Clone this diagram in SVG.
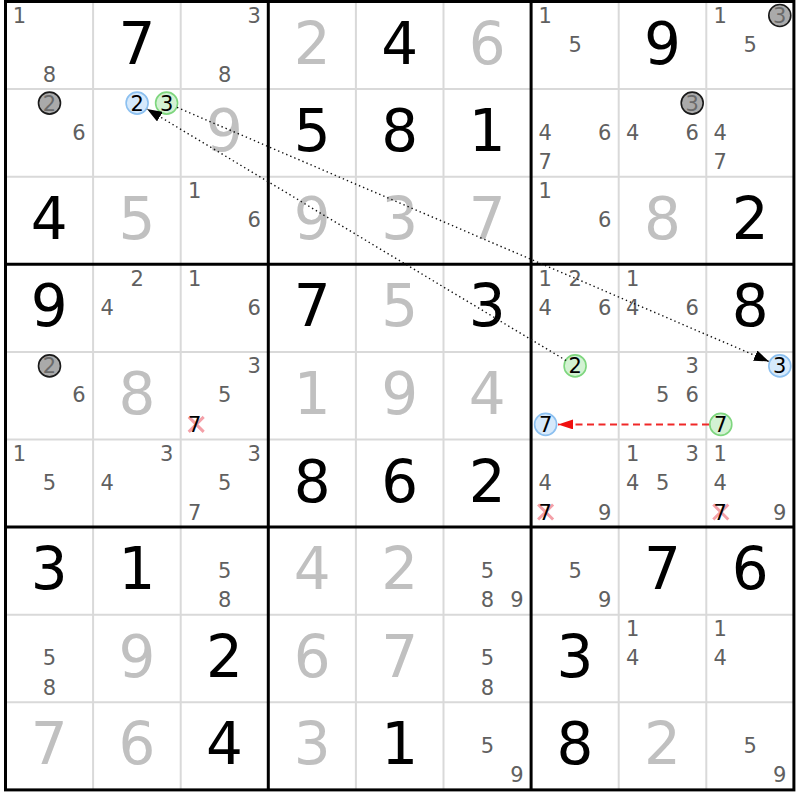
<svg xmlns="http://www.w3.org/2000/svg" width="800" height="800" viewBox="0 0 800 800">
<style>
text{font-family:"DejaVu Sans","Liberation Sans",sans-serif;text-anchor:middle}
.b{font-size:58px;fill:#000}
.s{font-size:58px;fill:#c0c0c0}
.c{font-size:21px;fill:#606060}
.k{font-size:21px;fill:#000}
.gd{font-size:21px;fill:#6a6a6a}
.thin{stroke:#d9d9d9;stroke-width:2}
.thick{stroke:#000;stroke-width:3}
.hb{fill:#d6e9fb;stroke:#8cc0f0;stroke-width:1.6}
.hg{fill:#d3f2d3;stroke:#7ed67e;stroke-width:1.6}
.hx{fill:#aaaaaa;stroke:#1a1a1a;stroke-width:1.6}
.x{stroke:#f4a0a8;stroke-width:3}
.dot{stroke:#111;stroke-width:1.4;stroke-dasharray:1.4 3;fill:none}
.dash{stroke:#f02828;stroke-width:2;stroke-dasharray:7 4.5;fill:none}
</style>
<defs>
<marker id="ab" viewBox="0 0 15 11" refX="15" refY="5.5" markerWidth="15" markerHeight="11" markerUnits="userSpaceOnUse" orient="auto"><path d="M0,0 L15,5.5 L0,11 z" fill="#000"/></marker>
<marker id="ar" viewBox="0 0 15 10" refX="15" refY="5" markerWidth="15" markerHeight="10" markerUnits="userSpaceOnUse" orient="auto"><path d="M0,0 L15,5 L0,10 z" fill="#f01010"/></marker>
</defs>
<rect x="0" y="0" width="800" height="800" fill="#fff"/>
<g id="grid">
<line class="thin" x1="93.1" y1="1.5" x2="93.1" y2="789.9"/>
<line class="thin" x1="180.7" y1="1.5" x2="180.7" y2="789.9"/>
<line class="thin" x1="355.9" y1="1.5" x2="355.9" y2="789.9"/>
<line class="thin" x1="443.5" y1="1.5" x2="443.5" y2="789.9"/>
<line class="thin" x1="618.7" y1="1.5" x2="618.7" y2="789.9"/>
<line class="thin" x1="706.3" y1="1.5" x2="706.3" y2="789.9"/>
<line class="thin" x1="5.5" y1="89.1" x2="793.9" y2="89.1"/>
<line class="thin" x1="5.5" y1="176.7" x2="793.9" y2="176.7"/>
<line class="thin" x1="5.5" y1="351.9" x2="793.9" y2="351.9"/>
<line class="thin" x1="5.5" y1="439.5" x2="793.9" y2="439.5"/>
<line class="thin" x1="5.5" y1="614.7" x2="793.9" y2="614.7"/>
<line class="thin" x1="5.5" y1="702.3" x2="793.9" y2="702.3"/>
<line class="thick" x1="268.3" y1="1.5" x2="268.3" y2="789.9"/>
<line class="thick" x1="531.1" y1="1.5" x2="531.1" y2="789.9"/>
<line class="thick" x1="5.5" y1="264.3" x2="793.9" y2="264.3"/>
<line class="thick" x1="5.5" y1="527.1" x2="793.9" y2="527.1"/>
<rect x="5.5" y="1.5" width="788.4" height="788.4" fill="none" stroke="#000" stroke-width="3"/>
</g>
<g id="cells">
<!-- Row 1 -->
<g id="r1c1" transform="translate(5.5,1.5)"><text class="c" x="14" y="21.6">1</text><text class="c" x="44" y="80.1">8</text></g>
<g id="r1c2" transform="translate(93.1,1.5)"><text class="b" x="43.8" y="62">7</text></g>
<g id="r1c3" transform="translate(180.7,1.5)"><text class="c" x="73.5" y="21.6">3</text><text class="c" x="44" y="80.1">8</text></g>
<g id="r1c4" transform="translate(268.3,1.5)"><text class="s" x="43.8" y="62">2</text></g>
<g id="r1c5" transform="translate(355.9,1.5)"><text class="b" x="43.8" y="62">4</text></g>
<g id="r1c6" transform="translate(443.5,1.5)"><text class="s" x="43.8" y="62">6</text></g>
<g id="r1c7" transform="translate(531.1,1.5)"><text class="c" x="14" y="21.6">1</text><text class="c" x="44" y="50.6">5</text></g>
<g id="r1c8" transform="translate(618.7,1.5)"><text class="b" x="43.8" y="62">9</text></g>
<g id="r1c9" transform="translate(706.3,1.5)"><text class="c" x="14" y="21.6">1</text><text class="c" x="44" y="50.6">5</text><circle class="hx" cx="73.5" cy="14" r="11"/><text class="gd" x="73.5" y="21.6">3</text></g>
<!-- Row 2 -->
<g id="r2c1" transform="translate(5.5,89.1)"><circle class="hx" cx="44" cy="14" r="11"/><text class="gd" x="44" y="21.6">2</text><text class="c" x="73.5" y="50.6">6</text></g>
<g id="r2c2" transform="translate(93.1,89.1)"><circle class="hb" cx="44" cy="14" r="11"/><text class="k" x="44" y="21.6">2</text><circle class="hg" cx="73.5" cy="14" r="11"/><text class="k" x="73.5" y="21.6">3</text></g>
<g id="r2c3" transform="translate(180.7,89.1)"><text class="s" x="43.8" y="62">9</text></g>
<g id="r2c4" transform="translate(268.3,89.1)"><text class="b" x="43.8" y="62">5</text></g>
<g id="r2c5" transform="translate(355.9,89.1)"><text class="b" x="43.8" y="62">8</text></g>
<g id="r2c6" transform="translate(443.5,89.1)"><text class="b" x="43.8" y="62">1</text></g>
<g id="r2c7" transform="translate(531.1,89.1)"><text class="c" x="14" y="50.6">4</text><text class="c" x="73.5" y="50.6">6</text><text class="c" x="14" y="80.1">7</text></g>
<g id="r2c8" transform="translate(618.7,89.1)"><circle class="hx" cx="73.5" cy="14" r="11"/><text class="gd" x="73.5" y="21.6">3</text><text class="c" x="14" y="50.6">4</text><text class="c" x="73.5" y="50.6">6</text></g>
<g id="r2c9" transform="translate(706.3,89.1)"><text class="c" x="14" y="50.6">4</text><text class="c" x="14" y="80.1">7</text></g>
<!-- Row 3 -->
<g id="r3c1" transform="translate(5.5,176.7)"><text class="b" x="43.8" y="62">4</text></g>
<g id="r3c2" transform="translate(93.1,176.7)"><text class="s" x="43.8" y="62">5</text></g>
<g id="r3c3" transform="translate(180.7,176.7)"><text class="c" x="14" y="21.6">1</text><text class="c" x="73.5" y="50.6">6</text></g>
<g id="r3c4" transform="translate(268.3,176.7)"><text class="s" x="43.8" y="62">9</text></g>
<g id="r3c5" transform="translate(355.9,176.7)"><text class="s" x="43.8" y="62">3</text></g>
<g id="r3c6" transform="translate(443.5,176.7)"><text class="s" x="43.8" y="62">7</text></g>
<g id="r3c7" transform="translate(531.1,176.7)"><text class="c" x="14" y="21.6">1</text><text class="c" x="73.5" y="50.6">6</text></g>
<g id="r3c8" transform="translate(618.7,176.7)"><text class="s" x="43.8" y="62">8</text></g>
<g id="r3c9" transform="translate(706.3,176.7)"><text class="b" x="43.8" y="62">2</text></g>
<!-- Row 4 -->
<g id="r4c1" transform="translate(5.5,264.3)"><text class="b" x="43.8" y="62">9</text></g>
<g id="r4c2" transform="translate(93.1,264.3)"><text class="c" x="44" y="21.6">2</text><text class="c" x="14" y="50.6">4</text></g>
<g id="r4c3" transform="translate(180.7,264.3)"><text class="c" x="14" y="21.6">1</text><text class="c" x="73.5" y="50.6">6</text></g>
<g id="r4c4" transform="translate(268.3,264.3)"><text class="b" x="43.8" y="62">7</text></g>
<g id="r4c5" transform="translate(355.9,264.3)"><text class="s" x="43.8" y="62">5</text></g>
<g id="r4c6" transform="translate(443.5,264.3)"><text class="b" x="43.8" y="62">3</text></g>
<g id="r4c7" transform="translate(531.1,264.3)"><text class="c" x="14" y="21.6">1</text><text class="c" x="44" y="21.6">2</text><text class="c" x="14" y="50.6">4</text><text class="c" x="73.5" y="50.6">6</text></g>
<g id="r4c8" transform="translate(618.7,264.3)"><text class="c" x="14" y="21.6">1</text><text class="c" x="14" y="50.6">4</text><text class="c" x="73.5" y="50.6">6</text></g>
<g id="r4c9" transform="translate(706.3,264.3)"><text class="b" x="43.8" y="62">8</text></g>
<!-- Row 5 -->
<g id="r5c1" transform="translate(5.5,351.9)"><circle class="hx" cx="44" cy="14" r="11"/><text class="gd" x="44" y="21.6">2</text><text class="c" x="73.5" y="50.6">6</text></g>
<g id="r5c2" transform="translate(93.1,351.9)"><text class="s" x="43.8" y="62">8</text></g>
<g id="r5c3" transform="translate(180.7,351.9)"><text class="c" x="73.5" y="21.6">3</text><text class="c" x="44" y="50.6">5</text><path class="x" d="M8,65 L23,80 M23,65 L8,80"/><text class="k" x="14" y="80.1">7</text></g>
<g id="r5c4" transform="translate(268.3,351.9)"><text class="s" x="43.8" y="62">1</text></g>
<g id="r5c5" transform="translate(355.9,351.9)"><text class="s" x="43.8" y="62">9</text></g>
<g id="r5c6" transform="translate(443.5,351.9)"><text class="s" x="43.8" y="62">4</text></g>
<g id="r5c7" transform="translate(531.1,351.9)"><circle class="hg" cx="44" cy="14" r="11"/><text class="k" x="44" y="21.6">2</text><circle class="hb" cx="14.5" cy="72.5" r="11"/><text class="k" x="14.5" y="80.1">7</text></g>
<g id="r5c8" transform="translate(618.7,351.9)"><text class="c" x="73.5" y="21.6">3</text><text class="c" x="44" y="50.6">5</text><text class="c" x="73.5" y="50.6">6</text></g>
<g id="r5c9" transform="translate(706.3,351.9)"><circle class="hb" cx="73.5" cy="14" r="11"/><text class="k" x="73.5" y="21.6">3</text><circle class="hg" cx="14.5" cy="72.5" r="11"/><text class="k" x="14.5" y="80.1">7</text></g>
<!-- Row 6 -->
<g id="r6c1" transform="translate(5.5,439.5)"><text class="c" x="14" y="21.6">1</text><text class="c" x="44" y="50.6">5</text></g>
<g id="r6c2" transform="translate(93.1,439.5)"><text class="c" x="73.5" y="21.6">3</text><text class="c" x="14" y="50.6">4</text></g>
<g id="r6c3" transform="translate(180.7,439.5)"><text class="c" x="73.5" y="21.6">3</text><text class="c" x="44" y="50.6">5</text><text class="c" x="14" y="80.1">7</text></g>
<g id="r6c4" transform="translate(268.3,439.5)"><text class="b" x="43.8" y="62">8</text></g>
<g id="r6c5" transform="translate(355.9,439.5)"><text class="b" x="43.8" y="62">6</text></g>
<g id="r6c6" transform="translate(443.5,439.5)"><text class="b" x="43.8" y="62">2</text></g>
<g id="r6c7" transform="translate(531.1,439.5)"><text class="c" x="14" y="50.6">4</text><path class="x" d="M7,65 L22,80 M22,65 L7,80"/><text class="k" x="14" y="80.1">7</text><text class="c" x="73.5" y="80.1">9</text></g>
<g id="r6c8" transform="translate(618.7,439.5)"><text class="c" x="14" y="21.6">1</text><text class="c" x="73.5" y="21.6">3</text><text class="c" x="14" y="50.6">4</text><text class="c" x="44" y="50.6">5</text></g>
<g id="r6c9" transform="translate(706.3,439.5)"><text class="c" x="14" y="21.6">1</text><text class="c" x="14" y="50.6">4</text><path class="x" d="M7,65 L22,80 M22,65 L7,80"/><text class="k" x="14" y="80.1">7</text><text class="c" x="73.5" y="80.1">9</text></g>
<!-- Row 7 -->
<g id="r7c1" transform="translate(5.5,527.1)"><text class="b" x="43.8" y="62">3</text></g>
<g id="r7c2" transform="translate(93.1,527.1)"><text class="b" x="43.8" y="62">1</text></g>
<g id="r7c3" transform="translate(180.7,527.1)"><text class="c" x="44" y="50.6">5</text><text class="c" x="44" y="80.1">8</text></g>
<g id="r7c4" transform="translate(268.3,527.1)"><text class="s" x="43.8" y="62">4</text></g>
<g id="r7c5" transform="translate(355.9,527.1)"><text class="s" x="43.8" y="62">2</text></g>
<g id="r7c6" transform="translate(443.5,527.1)"><text class="c" x="44" y="50.6">5</text><text class="c" x="44" y="80.1">8</text><text class="c" x="73.5" y="80.1">9</text></g>
<g id="r7c7" transform="translate(531.1,527.1)"><text class="c" x="44" y="50.6">5</text><text class="c" x="73.5" y="80.1">9</text></g>
<g id="r7c8" transform="translate(618.7,527.1)"><text class="b" x="43.8" y="62">7</text></g>
<g id="r7c9" transform="translate(706.3,527.1)"><text class="b" x="43.8" y="62">6</text></g>
<!-- Row 8 -->
<g id="r8c1" transform="translate(5.5,614.7)"><text class="c" x="44" y="50.6">5</text><text class="c" x="44" y="80.1">8</text></g>
<g id="r8c2" transform="translate(93.1,614.7)"><text class="s" x="43.8" y="62">9</text></g>
<g id="r8c3" transform="translate(180.7,614.7)"><text class="b" x="43.8" y="62">2</text></g>
<g id="r8c4" transform="translate(268.3,614.7)"><text class="s" x="43.8" y="62">6</text></g>
<g id="r8c5" transform="translate(355.9,614.7)"><text class="s" x="43.8" y="62">7</text></g>
<g id="r8c6" transform="translate(443.5,614.7)"><text class="c" x="44" y="50.6">5</text><text class="c" x="44" y="80.1">8</text></g>
<g id="r8c7" transform="translate(531.1,614.7)"><text class="b" x="43.8" y="62">3</text></g>
<g id="r8c8" transform="translate(618.7,614.7)"><text class="c" x="14" y="21.6">1</text><text class="c" x="14" y="50.6">4</text></g>
<g id="r8c9" transform="translate(706.3,614.7)"><text class="c" x="14" y="21.6">1</text><text class="c" x="14" y="50.6">4</text></g>
<!-- Row 9 -->
<g id="r9c1" transform="translate(5.5,702.3)"><text class="s" x="43.8" y="62">7</text></g>
<g id="r9c2" transform="translate(93.1,702.3)"><text class="s" x="43.8" y="62">6</text></g>
<g id="r9c3" transform="translate(180.7,702.3)"><text class="b" x="43.8" y="62">4</text></g>
<g id="r9c4" transform="translate(268.3,702.3)"><text class="s" x="43.8" y="62">3</text></g>
<g id="r9c5" transform="translate(355.9,702.3)"><text class="b" x="43.8" y="62">1</text></g>
<g id="r9c6" transform="translate(443.5,702.3)"><text class="c" x="44" y="50.6">5</text><text class="c" x="73.5" y="80.1">9</text></g>
<g id="r9c7" transform="translate(531.1,702.3)"><text class="b" x="43.8" y="62">8</text></g>
<g id="r9c8" transform="translate(618.7,702.3)"><text class="s" x="43.8" y="62">2</text></g>
<g id="r9c9" transform="translate(706.3,702.3)"><text class="c" x="44" y="50.6">5</text><text class="c" x="73.5" y="80.1">9</text></g>
</g>
<g id="connectors">
<line class="dot" x1="177" y1="107.4" x2="769" y2="361.5" marker-end="url(#ab)"/>
<line class="dot" x1="566" y1="360.5" x2="147" y2="109" marker-end="url(#ab)"/>
<line class="dash" x1="709" y1="424.4" x2="558" y2="424.4" marker-end="url(#ar)"/>
</g>
</svg>
